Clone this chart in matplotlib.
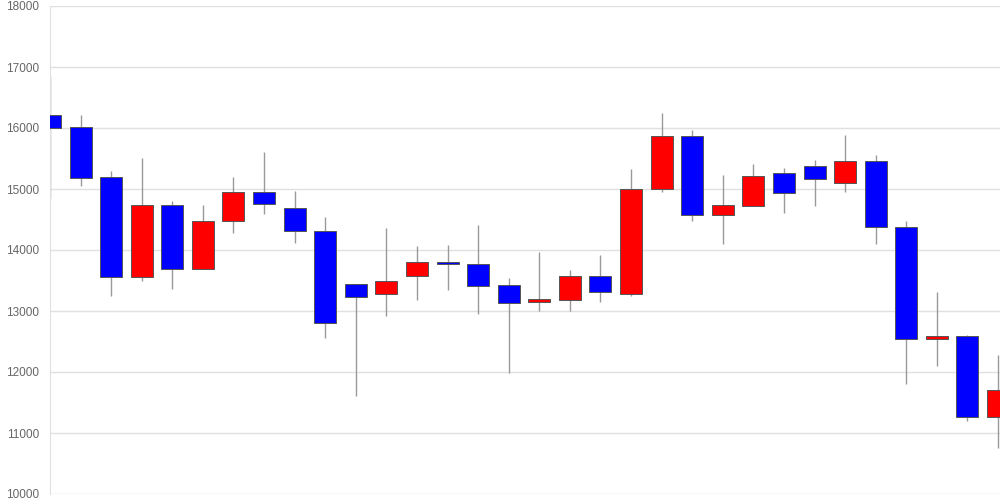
import matplotlib
matplotlib.use("Agg")
import matplotlib.pyplot as plt
import numpy as np

# daily OHLC
opens = [16213, 16016, 15192, 13552, 14743, 13683, 14470, 14956, 14694, 14317,
         13443, 13273, 13568, 13803, 13776, 13421, 13142, 13180, 13568, 13279,
         15000, 15863, 14568, 14727, 15257, 15377, 15093, 15454, 14382, 12541,
         12596, 11257]
closes = [16000, 15175, 13552, 14743, 13683, 14475, 14951, 14749, 14311, 12798,
          13235, 13492, 13798, 13765, 13404, 13126, 13191, 13568, 13306, 15005,
          15863, 14568, 14732, 15213, 14929, 15158, 15454, 14382, 12536, 12596,
          11257, 11705]
highs = [16857, 16208, 15295, 15503, 14803, 14732, 15202, 15607, 14972, 14541,
         13443, 14355, 14066, 14082, 14410, 13541, 13967, 13667, 13913, 15328,
         16246, 15973, 15230, 15410, 15344, 15475, 15885, 15563, 14475, 13311,
         12600, 12279]
lows = [14857, 15054, 13251, 13492, 13366, 13683, 14273, 14596, 14110, 12552,
        11611, 12923, 13186, 13350, 12956, 11978, 13005, 13005, 13153, 13251,
        14956, 14481, 14104, 14727, 14601, 14727, 14956, 14104, 11803, 12104,
        11191, 10749]
yticks = [10000, 11000, 12000, 13000, 14000, 15000, 16000, 17000, 18000]

plt.rcParams['font.family'] = ['Liberation Sans', 'DejaVu Sans']

fig = plt.figure(figsize=(10, 5), dpi=100)
ax = fig.add_axes([0.05, 0.012, 0.95, 0.976])

x = np.arange(len(opens))
o = np.array(opens)
c = np.array(closes)
up = c >= o
colors = np.where(up, '#ff0000', '#0000ff')
bottoms = np.minimum(o, c)
heights = np.maximum(np.abs(c - o), 40)

ax.vlines(x, lows, highs, color='#999999', linewidth=1, zorder=2)
ax.bar(x, heights, bottom=bottoms, width=0.72, color=colors,
       edgecolor='#555555', linewidth=0.7, zorder=3)

ax.set_xlim(0, len(opens) - 1 + 0.065)
ax.set_ylim(10000, 18000)
ax.set_yticks(yticks)
ax.set_yticklabels([str(v) for v in yticks])
ax.set_xticks([])
ax.grid(axis='y', color='#e0e0e0', linewidth=1)
ax.set_axisbelow(True)
ax.tick_params(axis='y', length=0, pad=8, labelsize=8.5, labelcolor='#666666')
for side in ['top', 'right', 'bottom']:
    ax.spines[side].set_visible(False)
ax.spines['left'].set_color('#e0e0e0')

fig.savefig('out.png', dpi=100)
